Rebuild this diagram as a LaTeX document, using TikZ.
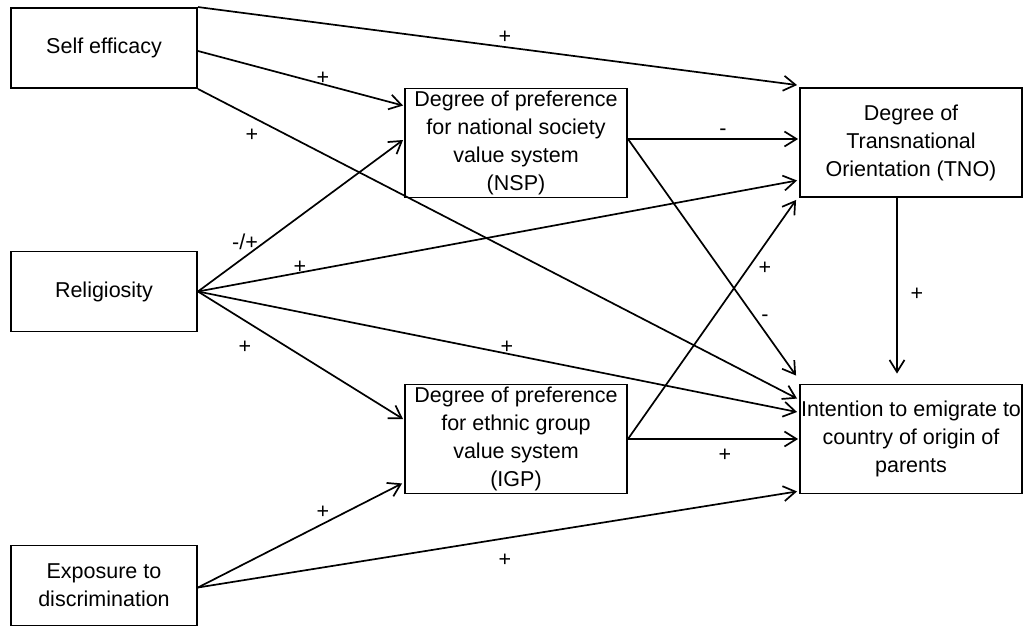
\documentclass[tikz,border=0pt]{standalone}
\usepackage{fontspec}
\setmainfont{Liberation Sans}
\usetikzlibrary{arrows.meta,calc}
\begin{document}
\begin{tikzpicture}[x=1pt,y=-1pt,
  box/.style={draw, line width=1.9pt, rectangle, inner sep=0pt, align=center,
    font=\fontsize{21.5}{28}\selectfont},
  smallbox/.style={box, minimum width=186pt, minimum height=80pt},
  bigbox/.style={box, minimum width=222pt, minimum height=109pt},
  conn/.style={line width=1.7pt, -{Straight Barb[length=12pt,width=15pt,line width=1.7pt]}},
  lab/.style={font=\fontsize{21.5}{28}\selectfont, inner sep=0pt}]
\useasboundingbox (0,0) rectangle (1025,626);

% boxes
\node[smallbox] (self)  at (104,48)    {Self efficacy};
\node[smallbox] (relig) at (104,291.5) {Religiosity};
\node[smallbox] (expo)  at (104,585.5) {Exposure to\\discrimination};
\node[bigbox]   (nsp)   at (516,143)   {Degree of preference\\for national society\\value system\\(NSP)};
\node[bigbox]   (igp)   at (516,439)   {Degree of preference\\for ethnic group\\value system\\(IGP)};
\node[bigbox]   (tno)   at (911,142.5) {Degree of\\Transnational\\Orientation (TNO)};
\node[bigbox]   (int)   at (911,439)   {Intention to emigrate to\\country of origin of\\parents};

% connectors from Self efficacy
\draw[conn] (self.north east) -- ($(tno.north west)+(-2,-2)$);
\draw[conn] ($(self.east)+(0,3)$) -- ($(nsp.north west)+(-1,18)$);
\draw[conn] (self.south east) -- ($(int.north west)+(-2,15)$);

% connectors from Religiosity
\draw[conn] (relig.east) -- ($(nsp.west)+(-1,-3)$);
\draw[conn] (relig.east) -- ($(tno.west)+(-2,38)$);
\draw[conn] (relig.east) -- ($(int.west)+(-2,-27)$);
\draw[conn] (relig.east) -- ($(igp.west)+(-1,-20)$);

% connectors from NSP
\draw[conn] ($(nsp.east)+(0,-4)$) -- ($(tno.west)+(-1,-3.5)$);
\draw[conn] ($(nsp.east)+(0,-4)$) -- ($(int.north west)+(-3,-8)$);

% connectors from IGP
\draw[conn] (igp.east) -- ($(tno.south west)+(-3,2)$);
\draw[conn] (igp.east) -- ($(int.west)+(-1,0)$);

% TNO to Intention
\draw[conn] ($(tno.south)+(-14,0)$) -- ($(int.north)+(-14,-10)$);

% connectors from Exposure
\draw[conn] ($(expo.east)+(0,2)$) -- ($(igp.south west)+(-2,-11)$);
\draw[conn] ($(expo.east)+(0,2)$) -- ($(int.south west)+(-2,-3)$);

% labels
\node[lab] (l1)  at (505,37)  {+};
\node[lab] (l2)  at (323,78)  {+};
\node[lab] (l3)  at (252,135) {+};
\node[lab] (l4)  at (245,242) {-/+};
\node[lab] (l5)  at (300,267) {+};
\node[lab] (l6)  at (507,347) {+};
\node[lab] (l7)  at (245,347) {+};
\node[lab] (l8)  at (723,132) {-};
\node[lab] (l9)  at (765,318) {-};
\node[lab] (l10) at (765,268) {+};
\node[lab] (l11) at (725,455) {+};
\node[lab] (l12) at (917,294) {+};
\node[lab] (l13) at (323,512) {+};
\node[lab] (l14) at (505,560) {+};
\end{tikzpicture}
\end{document}
